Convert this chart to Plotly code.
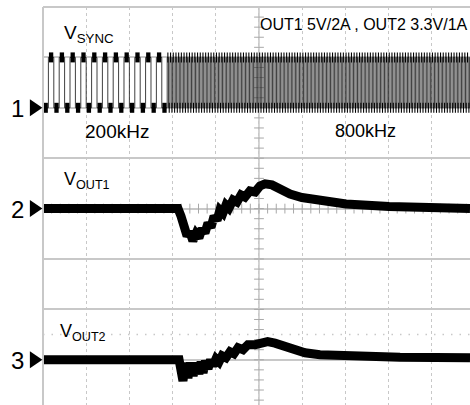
import plotly.graph_objects as go

# ---------------- data (time in microseconds, 20 us/div; voltage in divisions) ----------------
sync_freq_khz = [200, 800]
sync_switch_us = 57.5
sync_levels = [2.0, 3.0]          # low, high (divisions)
channel_levels = [2.0, 0.0, -3.0]  # ground markers for channel 1, 2, 3
channel_names = ["1", "2", "3"]

vout1_t = [0, 62.5, 63.9, 65.3, 66.7, 68.0, 69.4, 70.8, 72.2, 73.6, 75.0, 76.4, 77.8, 79.2, 80.6,
           81.9, 83.3, 84.7, 86.1, 88.0, 89.8, 91.7, 93.5, 95.8, 98.2, 100.5, 102.8,
           106.0, 109.7, 114.4, 119.9, 125.9, 132.9, 140.3, 160.2, 180.1, 197.7]
vout1_v = [0, 0, -0.15, -0.35, -0.54, -0.46, -0.64, -0.50, -0.58, -0.40, -0.48, -0.29, -0.37,
           -0.15, -0.23, -0.03, -0.09, 0.07, 0.01, 0.17, 0.13, 0.27, 0.23, 0.35, 0.33, 0.45, 0.49,
           0.47, 0.37, 0.29, 0.22, 0.17, 0.12, 0.09, 0.04, 0.02, 0.0]

vout2_t = [0, 63.0, 64.8, 66.0, 67.1, 68.3, 69.5, 70.8, 72.2, 73.2, 74.1, 75.2, 76.4, 77.6, 78.7,
           80.1, 81.5, 82.9, 84.7, 86.6, 88.4, 90.3, 92.6, 94.9, 98.2, 101.4, 104.0,
           107.4, 114.4, 121.3, 128.2, 140.3, 165.3, 197.7]
vout2_v = [-3.0, -3.0, -3.42, -3.06, -3.36, -3.06, -3.32, -3.06, -3.28, -3.04, -3.26, -3.02,
           -3.18, -3.0, -3.12, -2.98, -3.04, -2.92, -2.96, -2.84, -2.88, -2.76, -2.80, -2.70,
           -2.70, -2.65, -2.64, -2.67, -2.78, -2.86, -2.90, -2.93, -2.95, -2.96]

x_max = 197.7
y_min, y_max = -3.897, 4.0

# ---------------- build sync square wave ----------------
low, high = sync_levels
sq_x, sq_y = [], []
blob_x, blob_y = [], []


def add_square(t0, t1, freq_khz, start_high):
    half = 1000.0 / freq_khz / 2.0
    t = t0
    state = start_high
    while t < t1 - 1e-9:
        v = high if state else low
        te = min(t + half, t1)
        sq_x.extend([t, te])
        sq_y.extend([v, v])
        pad = half * 0.1
        blob_x.extend([t + pad, te - pad, None])
        blob_y.extend([v, v, None])
        t += half
        state = not state


add_square(0.0, sync_switch_us, sync_freq_khz[0], False)
add_square(sync_switch_us, x_max, sync_freq_khz[1], True)

fig = go.Figure()

FONT = "Liberation Sans, Arial, sans-serif"
GRID = "#c8c8c8"
AXC = "#a8a8a8"
PW, PH = 427.0, 398.0   # plot area size in px

# centre-line ticks
tick_t = [i * 4 for i in range(0, 50)]
fig.add_trace(go.Scatter(x=tick_t, y=[0] * len(tick_t), mode="markers",
                         marker=dict(symbol="line-ns", size=7, line=dict(width=1, color=AXC)),
                         hoverinfo="skip", showlegend=False))
tick_v = [i * 0.2 for i in range(-20, 21)]
fig.add_trace(go.Scatter(x=[100] * len(tick_v), y=tick_v, mode="markers",
                         marker=dict(symbol="line-ew", size=7, line=dict(width=1, color=AXC)),
                         hoverinfo="skip", showlegend=False))

# sync waveform
fig.add_trace(go.Scatter(x=sq_x, y=sq_y, mode="lines", line=dict(color="#2a2a2a", width=0.9),
                         hoverinfo="skip", showlegend=False))
fig.add_trace(go.Scatter(x=blob_x, y=blob_y, mode="lines", line=dict(color="black", width=10),
                         hoverinfo="skip", showlegend=False))

# output voltages
fig.add_trace(go.Scatter(x=vout1_t, y=vout1_v, mode="lines", line=dict(color="black", width=9),
                         hoverinfo="skip", showlegend=False))
fig.add_trace(go.Scatter(x=vout2_t, y=vout2_v, mode="lines", line=dict(color="black", width=9),
                         hoverinfo="skip", showlegend=False))

shapes = [
    # border (top & left)
    dict(type="line", xref="paper", yref="paper", x0=0, x1=1, y0=1, y1=1,
         line=dict(color=GRID, width=2)),
    dict(type="line", xref="paper", yref="paper", x0=0, x1=0, y0=0, y1=1,
         line=dict(color=GRID, width=2)),
    # centre lines
    dict(type="line", xref="x", yref="paper", x0=100, x1=100, y0=0, y1=1,
         line=dict(color=AXC, width=1), layer="below"),
    dict(type="line", xref="paper", yref="y", x0=0, x1=1, y0=0, y1=0,
         line=dict(color=AXC, width=1), layer="below"),
    # dotted reference line
    dict(type="line", xref="paper", yref="y", x0=0, x1=1, y0=-2.5, y1=-2.5,
         line=dict(color=GRID, width=1.5, dash="1.5px,7px"), layer="below"),
]
# channel ground markers (triangles left of the screen edge)
tw, th = 12.5 / PW, 8.5 / PH
for lvl in channel_levels:
    yp = (lvl - y_min) / (y_max - y_min)
    path = "M {:.5f},{:.5f} L {:.5f},{:.5f} L {:.5f},{:.5f} Z".format(
        -tw - 0.6 / PW, yp + th, -0.6 / PW, yp, -tw - 0.6 / PW, yp - th)
    shapes.append(dict(type="path", xref="paper", yref="paper", path=path,
                       fillcolor="black", line=dict(color="black", width=0)))

annotations = []
for name, lvl in zip(channel_names, channel_levels):
    annotations.append(dict(x=0, y=lvl, xref="x", yref="y", text=name, showarrow=False,
                            xanchor="center", yanchor="middle", xshift=-26, yshift=-1,
                            font=dict(family=FONT, size=24, color="black")))


def px(xp, yp):
    return (xp - 43) / PW, 1 - (yp - 7) / PH


labels = [
    ("OUT1 5V/2A , OUT2 3.3V/1A", 258, 25, "middle", 16),
    ("V<sub>SYNC</sub>", 62, 48, "bottom", 19),
    ("200kHz", 83, 131, "middle", 19),
    ("800kHz", 333, 131, "middle", 18),
    ("V<sub>OUT1</sub>", 62, 194, "bottom", 18),
    ("V<sub>OUT2</sub>", 58, 346, "bottom", 18),
]
for text, xp, yp, ya, size in labels:
    ax, ay = px(xp, yp)
    annotations.append(dict(x=ax, y=ay, xref="paper", yref="paper", text=text, showarrow=False,
                            xanchor="left", yanchor=ya,
                            font=dict(family=FONT, size=size, color="black")))

fig.update_layout(
    width=470, height=405,
    margin=dict(l=43, r=0, t=7, b=0, autoexpand=False),
    paper_bgcolor="white", plot_bgcolor="white",
    xaxis=dict(range=[0, x_max], showticklabels=False, ticks="", zeroline=False,
               showgrid=True, dtick=20, tick0=0, gridcolor=GRID, griddash="dot", gridwidth=1.2,
               fixedrange=True),
    yaxis=dict(range=[y_min, y_max], showticklabels=False, ticks="", zeroline=False,
               showgrid=True, dtick=1, tick0=0, gridcolor=GRID, gridwidth=1.5, fixedrange=True),
    shapes=shapes,
    annotations=annotations,
    showlegend=False,
)

fig.write_html("out.html")
